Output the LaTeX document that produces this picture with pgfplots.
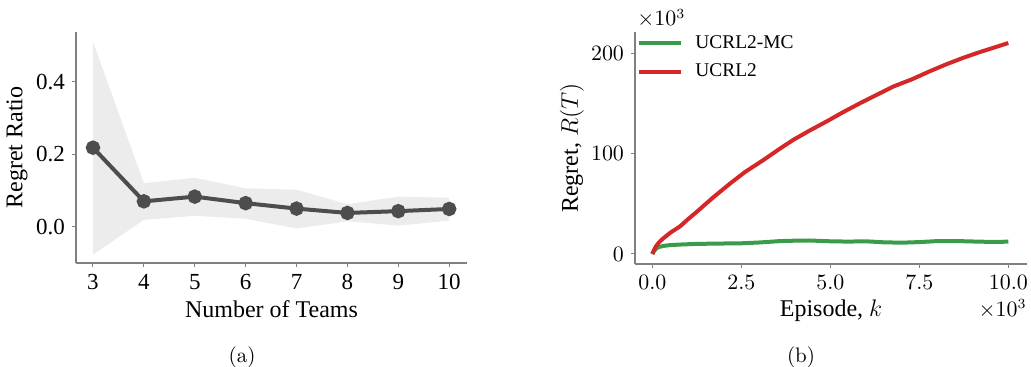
\documentclass[border=0pt]{standalone}
\usepackage{fontspec}
\usepackage{pgfplots}
\pgfplotsset{compat=1.18}
\newfontfamily\timesfont{Liberation Serif}
\definecolor{bandgray}{RGB}{236,236,236}
\definecolor{linegray}{RGB}{77,77,77}
\definecolor{axgray}{RGB}{128,128,128}
\definecolor{myred}{RGB}{214,39,40}
\definecolor{mygreen}{RGB}{58,156,74}
\newcommand{\legfont}{\timesfont\fontsize{9.7}{11}\selectfont}
\pgfplotsset{
  mystyle/.style={
    scale only axis,
    axis lines*=left,
    axis line style={axgray, line width=0.6pt},
    tick align=outside,
    major tick length=2pt,
    tick style={axgray, line width=0.5pt},
    clip=false,
  }
}
\begin{document}
\begin{tikzpicture}
\useasboundingbox (-38pt,-52pt) rectangle (477.5pt,131.5pt);
% ---------------- (a) ----------------
\begin{axis}[mystyle,
  at={(0pt,0pt)}, anchor=south west,
  width=195.5pt, height=115.5pt,
  xmin=2.666, xmax=10.35, ymin=-0.1, ymax=0.537,
  xtick={3,4,5,6,7,8,9,10},
  ytick={0,0.2,0.4},
  /pgf/number format/assume math mode=true,
  yticklabel style={/pgf/number format/.cd, fixed, zerofill, precision=1},
  tick label style={font=\timesfont\fontsize{11.5}{13}\selectfont},
  xlabel={Number of Teams},
  ylabel={Regret Ratio},
  label style={font=\timesfont\fontsize{12}{14}\selectfont},
  xlabel style={at={(axis description cs:0.5,-0.238)}, anchor=base},
  ylabel style={at={(axis description cs:-0.151,0.5)}, anchor=center},
]
\addplot[fill=bandgray, draw=none] coordinates {
  (3,0.510) (4,0.120) (5,0.135) (6,0.106) (7,0.102) (8,0.062) (9,0.083) (10,0.080)
  (10,0.017) (9,0.003) (8,0.015) (7,-0.005) (6,0.022) (5,0.030) (4,0.019) (3,-0.077)
} -- cycle;
\addplot[linegray, line width=2pt, mark=*, mark size=2.6pt, mark options={fill=linegray, draw=linegray}] coordinates {
  (3,0.218) (4,0.070) (5,0.083) (6,0.065) (7,0.050) (8,0.038) (9,0.043) (10,0.049)
};
\end{axis}
\node[font=\fontsize{10.5}{12}\selectfont] at (83pt,-47pt) {(a)};
% ---------------- (b) ----------------
\begin{axis}[mystyle,
  at={(279.5pt,-0.5pt)}, anchor=south west,
  width=196pt, height=116pt,
  xmin=-0.486, xmax=10.525, ymin=-10, ymax=221,
  xtick={0,2.5,5,7.5,10},
  ytick={0,100,200},
  xticklabel style={/pgf/number format/.cd, fixed, zerofill, precision=1},
  tick label style={font=\fontsize{10.5}{12}\selectfont},
  xlabel={Episode, $k$},
  ylabel={Regret, $R(T)$},
  label style={font=\timesfont\fontsize{12}{14}\selectfont},
  xlabel style={at={(axis description cs:0.5,-0.228)}, anchor=base},
  ylabel style={at={(axis description cs:-0.161,0.5)}, anchor=center},
  legend style={at={(axis description cs:0.005,1.005)}, anchor=north west,
    draw=none, fill=none, inner sep=0pt,
    font=\legfont,
    row sep=2.5pt},
  legend cell align=left,
  legend image code/.code={\draw[#1] (0pt,0pt) -- (21pt,0pt); \path (25pt,0pt);},
]
\addplot[mygreen, line width=2pt] coordinates {
  (0,0) (0.05,3.0) (0.12,5.7) (0.2,7.0) (0.31,8.0) (0.5,8.8) (0.8,9.4) (1.25,10.0)
  (1.6,10.2) (2.0,10.4) (2.5,10.6) (3.0,11.4) (3.59,12.8) (4.0,13.2) (4.4,13.4)
  (5.0,12.6) (5.5,12.3) (6.0,12.6) (6.5,11.6) (7.0,11.2) (7.5,11.8) (8.0,12.8)
  (8.5,12.9) (9.0,12.4) (9.5,12.0) (10.0,12.2)
};
\addlegendentry{\legfont UCRL2-MC}
\addplot[myred, line width=2pt] coordinates {
  (0,0) (0.05,4) (0.1,7.5) (0.2,12) (0.31,15.6) (0.5,21) (0.78,27.5) (1.0,34.5)
  (1.25,42) (1.7,56) (2.18,70) (2.6,81.5) (3.12,93.5) (3.59,105) (3.96,113.6)
  (4.4,122.5) (4.9,132) (5.35,141) (5.83,150) (6.39,160) (6.77,166.7) (7.3,174)
  (7.8,182) (8.27,189) (8.75,195.5) (9.2,201) (9.6,205.5) (10.0,210)
};
\addlegendentry{\legfont UCRL2}
\node[anchor=base west, inner sep=0pt, font=\fontsize{10.5}{12}\selectfont] at ([xshift=1pt,yshift=3pt]axis description cs:0,1) {$\times10^{3}$};
\node[anchor=base east, inner sep=0pt, font=\fontsize{10.5}{12}\selectfont] at (axis description cs:1,-0.228) {$\times10^{3}$};
\end{axis}
\node[font=\fontsize{10.5}{12}\selectfont] at (362.5pt,-47pt) {(b)};
\end{tikzpicture}
\end{document}
